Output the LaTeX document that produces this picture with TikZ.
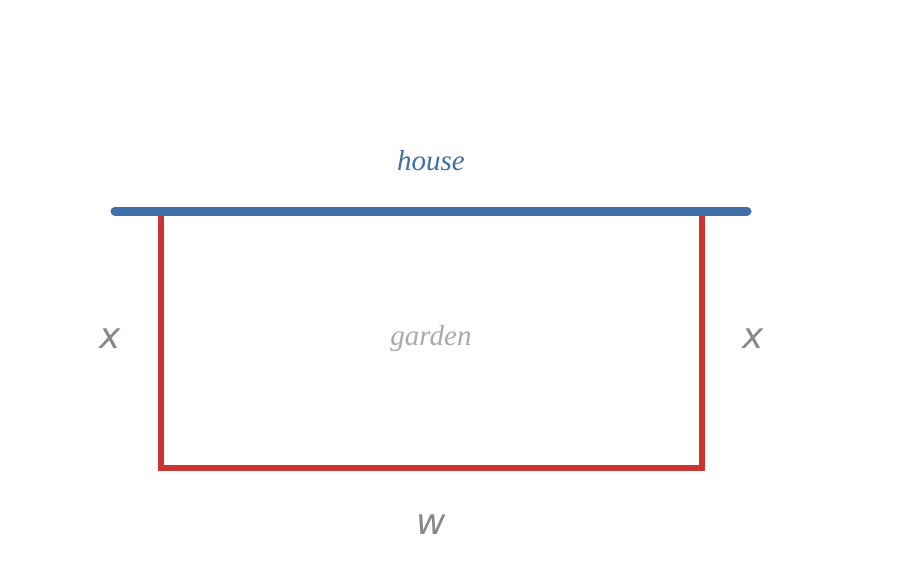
\documentclass[tikz,border=0pt]{standalone}
\usepackage{fontspec}
\setmainfont{Liberation Serif}
\newfontfamily\varfont{DejaVu Sans}
\definecolor{houseblue}{HTML}{3E6FA8}
\definecolor{fencered}{HTML}{CC3333}
\definecolor{lbl}{HTML}{888888}
\definecolor{gard}{HTML}{AAAAAA}
\begin{document}
\begin{tikzpicture}[x=1pt,y=-1pt,
  varlbl/.style={text=lbl,font=\varfont\itshape\fontsize{36}{40}\selectfont},
  wordlbl/.style={font=\itshape\fontsize{29}{32}\selectfont}]
\useasboundingbox (0,0) rectangle (901,581);
\coordinate (hl) at (115,211); \coordinate (hr) at (747,211);
\coordinate (tl) at (161,211); \coordinate (bl) at (161,468);
\coordinate (br) at (702,468); \coordinate (tr) at (702,211);
\draw[fencered,line width=6pt] (tl) -- (bl) -- (br) -- (tr);
\draw[houseblue,line width=9pt,line cap=round] (hl) -- (hr);
\node[wordlbl,text=houseblue] (house) at (431,161) {house};
\node[wordlbl,text=gard] (garden) at (431,339) {garden};
\node[varlbl] (xl) at (110,339) {x};
\node[varlbl] (xr) at (753,339) {x};
\node[varlbl] (w) at (431,525) {w};
\end{tikzpicture}
\end{document}
